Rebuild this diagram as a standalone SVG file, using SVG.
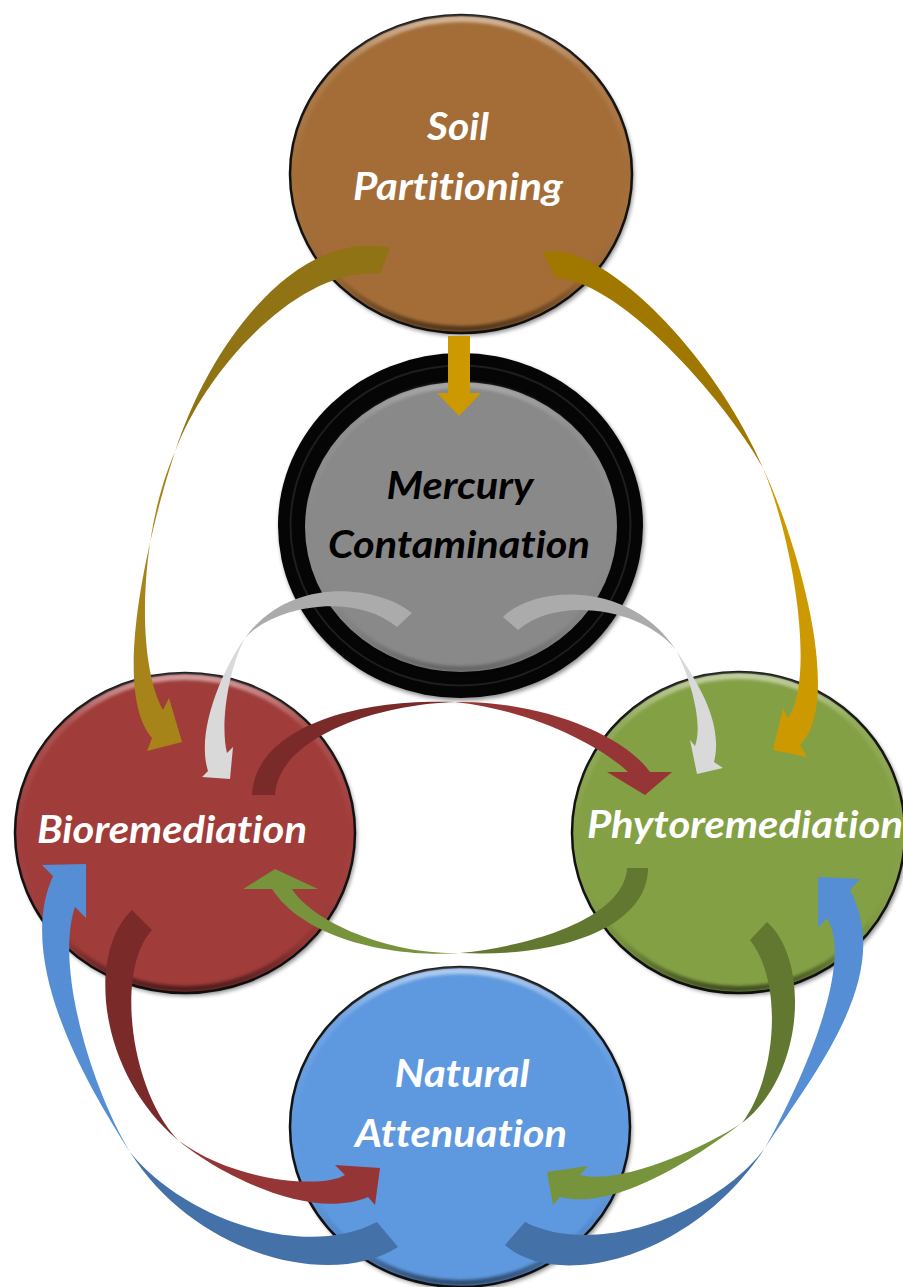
<svg xmlns="http://www.w3.org/2000/svg" width="903" height="1287" viewBox="0 0 903 1287">
<defs>
<linearGradient id="bevel" x1="0" y1="0" x2="0" y2="1">
<stop offset="0" stop-color="#fff" stop-opacity="0.5"/>
<stop offset="0.15" stop-color="#fff" stop-opacity="0.12"/>
<stop offset="0.5" stop-color="#fff" stop-opacity="0"/>
<stop offset="0.85" stop-color="#000" stop-opacity="0.1"/>
<stop offset="1" stop-color="#000" stop-opacity="0.5"/>
</linearGradient>
<filter id="blur1" x="-10%" y="-10%" width="120%" height="120%"><feGaussianBlur stdDeviation="1.5"/></filter>
<filter id="shadow" x="-10%" y="-10%" width="120%" height="120%"><feGaussianBlur stdDeviation="2"/></filter>
</defs>
<style>
.lbl{font-family:Lato,'Open Sans','Liberation Sans',sans-serif;font-weight:700;font-style:italic;font-size:38px;text-anchor:middle;font-variant-ligatures:none;font-feature-settings:"liga" 0,"clig" 0,"dlig" 0}
.w{fill:#fff}
.k{fill:#000}
.rim{stroke:#111;stroke-width:2.5}
.bev{fill:none;stroke:url(#bevel);stroke-width:6;filter:url(#blur1)}
.shd{fill:#000;opacity:.45;filter:url(#shadow)}
.goldL1{fill:#907314}.goldL2{fill:#A6841A}
.goldR1{fill:#A07800}.goldR2{fill:#CC9900}
.gray1{fill:#ABABAB}.gray2{fill:#D9D9D9}
.red1{fill:#7B2A2A}.red2{fill:#963535}
.grn1{fill:#62772F}.grn2{fill:#77933C}
.blu1{fill:#4471A8}.blu2{fill:#558ED5}
</style>

<g id="node-soil">
<ellipse class="shd" cx="463" cy="177" rx="171" ry="159"/>
<ellipse class="rim" cx="461" cy="174" rx="171" ry="159" fill="#A46D37"/>
<ellipse class="bev" cx="461" cy="174" rx="167" ry="155"/>
<text class="lbl w" x="458" y="140" textLength="62" lengthAdjust="spacingAndGlyphs">Soil</text>
<text class="lbl w" x="458" y="200" textLength="210" lengthAdjust="spacingAndGlyphs">Partitioning</text>
</g>

<g id="node-mercury">
<ellipse class="shd" cx="462" cy="528" rx="182.5" ry="172.5"/>
<ellipse cx="460.5" cy="525.5" rx="182.5" ry="172.5" fill="#050505"/>
<ellipse cx="460.5" cy="525.5" rx="170" ry="160" fill="none" stroke="#2a2a2a" stroke-width="2" opacity="0.7"/>
<ellipse cx="461" cy="527" rx="156" ry="145" fill="#898989"/>
<ellipse class="bev" cx="461" cy="527" rx="153" ry="142" opacity="0.5"/>
<text class="lbl k" x="460" y="499" textLength="147" lengthAdjust="spacingAndGlyphs">Mercury</text>
<text class="lbl k" x="459" y="558" textLength="262" lengthAdjust="spacingAndGlyphs">Contamination</text>
</g>

<g id="node-bio">
<ellipse class="shd" cx="187" cy="836" rx="170" ry="160"/>
<ellipse class="rim" cx="185" cy="833" rx="170" ry="160" fill="#A03C3A"/>
<ellipse class="bev" cx="185" cy="833" rx="166" ry="156"/>
<text class="lbl w" x="172" y="843" textLength="270" lengthAdjust="spacingAndGlyphs">Bioremediation</text>
</g>

<g id="node-phyto">
<ellipse class="shd" cx="741" cy="835" rx="166.5" ry="160.5"/>
<ellipse class="rim" cx="738.5" cy="832.5" rx="166.5" ry="160.5" fill="#84A045"/>
<ellipse class="bev" cx="738.5" cy="832.5" rx="162.5" ry="156.5"/>
<text class="lbl w" x="745" y="838" textLength="316" lengthAdjust="spacingAndGlyphs">Phytoremediation</text>
</g>

<g id="node-natural">
<ellipse class="shd" cx="462" cy="1130" rx="170" ry="160"/>
<ellipse class="rim" cx="460" cy="1127" rx="170" ry="160" fill="#5E98DF"/>
<ellipse class="bev" cx="460" cy="1127" rx="166" ry="156"/>
<text class="lbl w" x="462" y="1087" textLength="135" lengthAdjust="spacingAndGlyphs">Natural</text>
<text class="lbl w" x="461" y="1147" textLength="212" lengthAdjust="spacingAndGlyphs">Attenuation</text>
</g>

<g id="connectors">
<g id="soil-to-mercury"><path class="goldR2" d="M448,336 L470,336 L470,393 L481,393 L459,416 L437,393 L448,393 Z"/></g>
<g id="soil-to-bio">
<path class="goldL1" d="M390,248 C300,228 212,338 175,452 C205,370 300,265 380,274 Z"/>
<path class="goldL2" d="M175,452 C150,528 110,690 152,738 L147,751 L182,742 L169,698 L163,710 C135,660 140,530 175,452 Z"/>
</g>
<g id="soil-to-phyto">
<path class="goldR1" d="M543,252 C600,240 712,350 763,468 C735,415 625,280 555,278 Z"/>
<path class="goldR2" d="M763,468 C795,535 845,700 800,745 L807,757 L773,750 L783,708 L788,718 C815,680 795,545 763,468 Z"/>
</g>
<g id="mercury-to-bio">
<path class="gray1" d="M412,613 C378,585 290,575 245,638 C275,605 355,592 397,627 Z"/>
<path class="gray2" d="M245,638 C225,665 195,730 208,771 L202,777 L230,779 L233,747 L227,753 C220,725 228,670 245,638 Z"/>
</g>
<g id="mercury-to-phyto">
<path class="gray1" d="M503,617 C535,585 630,580 676,650 C645,610 560,594 518,630 Z"/>
<path class="gray2" d="M676,650 C696,680 724,722 714,762 L723,768 L697,774 L690,740 L695,746 C703,725 692,682 676,650 Z"/>
</g>
<g id="bio-to-phyto">
<path class="red1" d="M252,795 C255,730 350,698 455,702 C370,705 278,740 275,795 Z"/>
<path class="red2" d="M455,702 C530,700 620,730 650,772 L672,772 L645,795 L607,772 L628,772 C600,745 530,710 455,702 Z"/>
</g>
<g id="phyto-to-bio">
<path class="grn1" d="M648,868 C648,925 565,958 460,953 C540,945 625,915 627,868 Z"/>
<path class="grn2" d="M460,953 C395,958 305,940 272,889 L243,889 L275,869 L318,889 L292,889 C315,925 395,955 460,953 Z"/>
</g>
<g id="bio-to-natural">
<path class="red1" d="M132,910 C85,955 100,1075 178,1140 C130,1090 115,970 152,930 Z"/>
<path class="red2" d="M178,1140 C215,1172 310,1222 368,1197 L375,1205 L380,1168 L335,1165 L345,1175 C320,1190 230,1180 178,1140 Z"/>
</g>
<g id="natural-to-bio">
<path class="blu1" d="M398,1247 C330,1290 195,1255 130,1152 C180,1215 300,1262 377,1222 Z"/>
<path class="blu2" d="M130,1152 C85,1082 15,960 53,876 L42,865 L86,864 L86,918 L75,907 C55,965 90,1085 130,1152 Z"/>
</g>
<g id="phyto-to-natural">
<path class="grn1" d="M767,922 C810,960 805,1075 742,1123 C775,1080 785,985 750,940 Z"/>
<path class="grn2" d="M742,1123 C705,1150 620,1212 560,1197 L553,1205 L547,1172 L588,1166 L580,1175 C620,1185 700,1150 742,1123 Z"/>
</g>
<g id="natural-to-phyto">
<path class="blu1" d="M505,1245 C555,1290 690,1262 765,1148 C715,1215 595,1258 525,1222 Z"/>
<path class="blu2" d="M765,1148 C815,1072 895,975 850,890 L860,879 L818,877 L818,928 L827,918 C855,965 800,1085 765,1148 Z"/>
</g>
</g>
</svg>
